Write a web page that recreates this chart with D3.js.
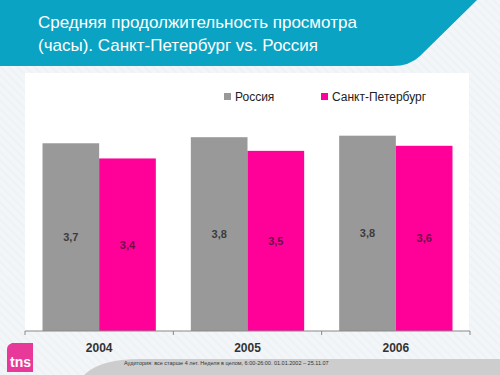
<!DOCTYPE html>
<html lang="ru">
<head>
<meta charset="UTF-8">
<title>Средняя продолжительность просмотра</title>
<style>
  body { margin: 0; padding: 0; background: #f4f7f9; }
  svg { display: block; font-family: 'Liberation Sans', Arial, sans-serif; }
</style>
</head>
<body>
<svg width="500" height="375"></svg>
<script src="https://d3js.org/d3.v7.min.js"></script>
<script>
  const years = ["2004", "2005", "2006"];
  const seriesNames = ["Россия", "Санкт-Петербург"];
  const russia = [3.71, 3.83, 3.86];
  const spb = [3.41, 3.56, 3.66];
  const colors = ["#999999", "#ff0099"];
  const labelColors = ["#3c3c3c", "#6b1048"];

  const titleLines = ["Средняя продолжительность просмотра", "(часы). Санкт-Петербург vs. Россия"];
  const footnote = "Аудитория: все старше 4 лет. Неделя в целом, 6:00-26:00. 01.01.2002 – 25.11.07";

  const svg = d3.select("svg");

  // striped background
  const defs = svg.append("defs");
  const pat = defs.append("pattern")
    .attr("id", "stripes").attr("width", 6).attr("height", 6)
    .attr("patternUnits", "userSpaceOnUse")
    .attr("patternTransform", "rotate(-45)");
  pat.append("rect").attr("width", 6).attr("height", 6).attr("fill", "#f3f6f8");
  pat.append("rect").attr("width", 2).attr("height", 6).attr("fill", "#eef2f5");
  svg.append("rect").attr("width", 500).attr("height", 375).attr("fill", "url(#stripes)");

  // banner
  svg.append("path")
    .attr("d", "M0,0 H477 L420,56 Q410,66 392,66 H0 Z")
    .attr("fill", "#0aa3c3");

  svg.append("g").selectAll("text")
    .data(titleLines)
    .join("text")
    .attr("x", 38)
    .attr("y", (d, i) => 28 + i * 23)
    .attr("fill", "#ffffff")
    .attr("font-size", 17)
    .text(d => d);

  // white panel
  svg.append("rect")
    .attr("x", 25).attr("y", 73).attr("width", 444).attr("height", 258)
    .attr("fill", "#ffffff");

  // footer band
  svg.append("path")
    .attr("d", "M84,375 Q100,359 140,359 H500 V375 Z")
    .attr("fill", "#cdcdcd");
  svg.append("text")
    .attr("x", 124).attr("y", 365)
    .attr("font-size", 5.5)
    .attr("fill", "#333")
    .text(footnote);

  // logo
  svg.append("path")
    .attr("d", "M12,343 H33 V372 H7 V349 Q7,345 12,343 Z")
    .attr("fill", "#e8399a");
  svg.append("text")
    .attr("x", 10).attr("y", 367)
    .attr("font-size", 14).attr("font-weight", "bold")
    .attr("fill", "#ffffff")
    .text("tns");

  const baseY = 331;
  const x0 = d3.scaleBand().domain(years).range([25, 470])
    .paddingInner(0.236).paddingOuter(0.118);
  const x1 = d3.scaleBand().domain(seriesNames).range([0, x0.bandwidth()]);
  const y = d3.scaleLinear().domain([0, 5]).range([baseY, baseY - 253]);

  const data = years.map((yr, i) => ({
    year: yr,
    values: [
      { name: seriesNames[0], v: russia[i], k: 0 },
      { name: seriesNames[1], v: spb[i], k: 1 }
    ]
  }));

  const fmt = v => (Math.floor(v * 10) / 10).toFixed(1).replace(".", ",");

  const groups = svg.append("g").selectAll("g")
    .data(data)
    .join("g")
    .attr("transform", d => `translate(${x0(d.year)},0)`);

  groups.selectAll("rect")
    .data(d => d.values)
    .join("rect")
    .attr("x", d => x1(d.name))
    .attr("y", d => y(d.v))
    .attr("width", x1.bandwidth())
    .attr("height", d => y(0) - y(d.v))
    .attr("fill", d => colors[d.k]);

  groups.selectAll("text")
    .data(d => d.values)
    .join("text")
    .attr("x", d => x1(d.name) + x1.bandwidth() / 2)
    .attr("y", d => (y(d.v) + y(0)) / 2 + 4)
    .attr("text-anchor", "middle")
    .attr("font-size", 11)
    .attr("font-weight", "bold")
    .attr("fill", d => labelColors[d.k])
    .text(d => fmt(d.v));

  // axis
  const axisG = svg.append("g").attr("transform", `translate(0,${baseY})`);
  axisG.append("line")
    .attr("x1", 25).attr("x2", 470)
    .attr("stroke", "#888").attr("stroke-width", 1);
  const tickX = years.map(d => x0(d) - x0.step() * x0.paddingInner() / 2)
    .concat([470]);
  axisG.selectAll(".tk")
    .data(tickX)
    .join("line")
    .attr("class", "tk")
    .attr("x1", d => d).attr("x2", d => d)
    .attr("y1", 0).attr("y2", 4)
    .attr("stroke", "#888");
  axisG.selectAll(".cat")
    .data(years)
    .join("text")
    .attr("class", "cat")
    .attr("x", d => x0(d) + x0.bandwidth() / 2)
    .attr("y", 21)
    .attr("text-anchor", "middle")
    .attr("font-size", 12)
    .attr("font-weight", "bold")
    .attr("fill", "#333")
    .text(d => d);

  // legend
  const legendX = [224, 321];
  const leg = svg.append("g").selectAll("g")
    .data(seriesNames)
    .join("g")
    .attr("transform", (d, i) => `translate(${legendX[i]},93)`);
  leg.append("rect")
    .attr("width", 7).attr("height", 7)
    .attr("fill", (d, i) => colors[i]);
  leg.append("text")
    .attr("x", 11).attr("y", 7.5)
    .attr("font-size", 12)
    .attr("fill", "#222")
    .text(d => d);
</script>
</body>
</html>
